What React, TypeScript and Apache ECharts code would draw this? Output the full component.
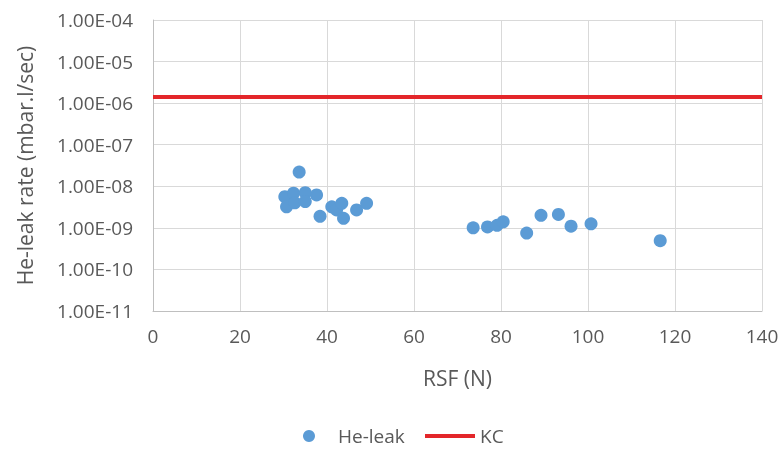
import React, { useEffect, useRef } from "react";
import * as echarts from "echarts";

const rsf: number[] = [30.3, 30.7, 32.3, 32.6, 33.6, 35.0, 35.0, 37.6, 38.4, 41.1, 42.2, 43.4, 43.8, 46.8, 49.1, 73.6, 76.9, 79.1, 80.5, 85.9, 89.2, 93.2, 96.1, 100.7, 116.6];
const heLeak: number[] = [5.6e-9, 3.2e-9, 6.8e-9, 4.0e-9, 2.2e-8, 7.0e-9, 4.3e-9, 6.2e-9, 1.9e-9, 3.2e-9, 2.7e-9, 3.9e-9, 1.7e-9, 2.7e-9, 3.9e-9, 1.0e-9, 1.05e-9, 1.15e-9, 1.4e-9, 7.5e-10, 2.0e-9, 2.1e-9, 1.1e-9, 1.25e-9, 4.9e-10];
const kcX: number[] = [0, 140];
const kcValue = 1.4e-6;

const fmt = (v: number) => {
  const e = Math.round(Math.log10(v));
  const sign = e < 0 ? "-" : "+";
  const a = Math.abs(e);
  return "1.00E" + sign + (a < 10 ? "0" + a : String(a));
};

export default function App() {
  const ref = useRef<HTMLDivElement>(null);
  useEffect(() => {
    if (!ref.current) return;
    const chart = echarts.init(ref.current, undefined, { renderer: "svg" });
    const font = "'Open Sans', sans-serif";
    const gray = "#595959";
    chart.setOption({
      animation: false,
      textStyle: { fontFamily: font },
      grid: { left: 153, right: 20, top: 20, bottom: 139, containLabel: false },
      xAxis: {
        type: "value",
        min: 0,
        max: 140,
        interval: 20,
        name: "RSF (N)",
        nameLocation: "middle",
        nameGap: 56,
        nameTextStyle: { color: gray, fontSize: 21, fontFamily: font },
        axisLine: { show: true, lineStyle: { color: "#BFBFBF" } },
        axisTick: { show: false },
        axisLabel: { color: gray, fontSize: 19, margin: 15, fontFamily: font },
        splitLine: { show: true, lineStyle: { color: "#D9D9D9", width: 1 } },
      },
      yAxis: {
        type: "log",
        logBase: 10,
        min: 1e-11,
        max: 1e-4,
        name: "He-leak rate (mbar.l/sec)",
        nameLocation: "middle",
        nameGap: 118,
        nameTextStyle: { color: gray, fontSize: 21, fontFamily: font },
        axisLine: { show: true, lineStyle: { color: "#BFBFBF" } },
        axisTick: { show: false },
        axisLabel: { color: gray, fontSize: 19, margin: 20, fontFamily: font, formatter: fmt },
        splitLine: { show: true, lineStyle: { color: "#D9D9D9", width: 1 } },
      },
      legend: [
        {
          data: [{ name: "He-leak", icon: "circle" }],
          left: 303,
          top: 426,
          padding: 0,
          itemWidth: 12,
          itemHeight: 12,
          textStyle: { color: gray, fontSize: 19, lineHeight: 20, fontFamily: font, padding: [0, 0, 0, 18] },
        },
        {
          data: [{ name: "KC", icon: "rect" }],
          left: 425,
          top: 426,
          padding: 0,
          itemWidth: 50,
          itemHeight: 4,
          textStyle: { color: gray, fontSize: 19, lineHeight: 20, fontFamily: font },
        },
      ],
      series: [
        {
          name: "He-leak",
          type: "scatter",
          data: rsf.map((x, i) => [x, heLeak[i]]),
          symbolSize: 13,
          itemStyle: { color: "#5B9BD5", opacity: 1 },
          z: 3,
        },
        {
          name: "KC",
          type: "line",
          data: kcX.map((x) => [x, kcValue]),
          symbol: "none",
          lineStyle: { color: "#E3262A", width: 4 },
          itemStyle: { color: "#E3262A" },
          z: 2,
        },
      ],
    });
    return () => chart.dispose();
  }, []);
  return <div ref={ref} style={{ position: "fixed", left: 0, top: 0, width: 782, height: 450 }} />;
}
